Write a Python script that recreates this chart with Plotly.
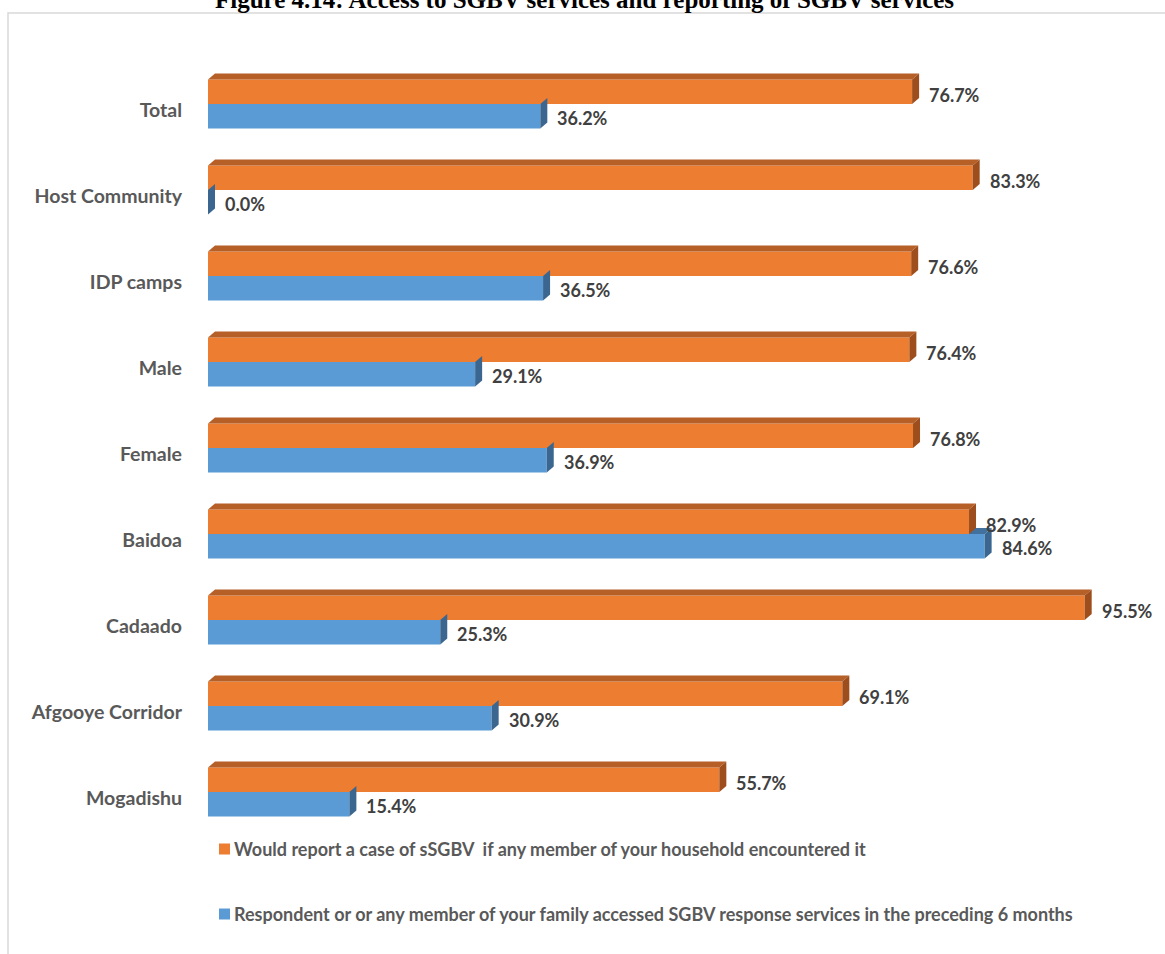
import plotly.graph_objects as go

categories = ["Total", "Host Community", "IDP camps", "Male", "Female",
              "Baidoa", "Cadaado", "Afgooye Corridor", "Mogadishu"]
would_report = [76.7, 83.3, 76.6, 76.4, 76.8, 82.9, 95.5, 69.1, 55.7]
accessed = [36.2, 0.0, 36.5, 29.1, 36.9, 84.6, 25.3, 30.9, 15.4]
series_names = [
    "Would report a case of sSGBV\u00a0 if any member of your household encountered it",
    "Respondent or or any member of your family accessed SGBV response services in the preceding 6 months",
]
title_text = "Figure 4.14: Access to SGBV services and reporting of SGBV services"

# page / plot-area geometry
W, H = 1165, 954
ML, MR, MT, MB = 208, 39, 61, 119
PW, PH = W - ML - MR, H - MT - MB

ORANGE, ORANGE_TOP, ORANGE_SIDE = "#ED7D31", "#B65F27", "#9E4E1C"
BLUE, BLUE_TOP, BLUE_SIDE = "#5B9BD5", "#41719C", "#3A6690"

BAR_W = 0.285          # thickness of one bar (category units)
DX = 7 * 100 / PW      # 3-D depth, horizontal (x units)
DY = 6 * len(categories) / PH  # 3-D depth, vertical (category units)


def px_x(p):
    return (p - ML) / PW


def px_y(p):
    return (H - MB - p) / PH


fig = go.Figure()
fig.add_trace(go.Bar(y=categories, x=would_report, orientation="h",
                     name=series_names[0], showlegend=False,
                     marker=dict(color=ORANGE, line=dict(width=0)),
                     hoverinfo="skip"))
fig.add_trace(go.Bar(y=categories, x=accessed, orientation="h",
                     name=series_names[1], showlegend=False,
                     marker=dict(color=BLUE, line=dict(width=0)),
                     hoverinfo="skip"))


def poly(pts, color, layer="above"):
    d = "M " + " L ".join(f"{x},{y}" for x, y in pts) + " Z"
    return dict(type="path", path=d, xref="x", yref="y", fillcolor=color,
                line=dict(width=0), layer=layer)


shapes = []
for i, (o, b) in enumerate(zip(would_report, accessed)):
    o_top, mid, b_bot = i - BAR_W, i, i + BAR_W
    # blue top face (mostly hidden behind the orange bar)
    shapes.append(poly([(0, mid), (DX, mid - DY), (b + DX, mid - DY), (b, mid)],
                       BLUE_TOP, "below"))
    # blue side face
    shapes.append(poly([(b, mid), (b + DX, mid - DY), (b + DX, b_bot - DY), (b, b_bot)],
                       BLUE_SIDE))
    # orange top face
    shapes.append(poly([(0, o_top), (DX, o_top - DY), (o + DX, o_top - DY), (o, o_top)],
                       ORANGE_TOP))
    # orange side face
    shapes.append(poly([(o, o_top), (o + DX, o_top - DY), (o + DX, mid - DY), (o, mid)],
                       ORANGE_SIDE))

# outer chart frame
shapes.append(dict(type="rect", xref="paper", yref="paper",
                   x0=px_x(8), x1=px_x(1175), y0=px_y(965), y1=px_y(13),
                   line=dict(color="#D9D9D9", width=1.5), layer="below"))

annotations = []
label_font = dict(family="Lato", size=18, color="#404040", weight="bold")
for i, (o, b) in enumerate(zip(would_report, accessed)):
    annotations.append(dict(x=o, y=i - BAR_W / 2, xref="x", yref="y",
                            text=f"{o:.1f}%", showarrow=False, xanchor="left",
                            xshift=15, yshift=-3, font=label_font))
    annotations.append(dict(x=b, y=i + BAR_W / 2, xref="x", yref="y",
                            text=f"{b:.1f}%", showarrow=False, xanchor="left",
                            xshift=15, yshift=-2, font=label_font))

# legend: colour key squares with their series names
legend_rows = [(849, ORANGE), (914, BLUE)]
for (cy, color), name in zip(legend_rows, series_names):
    shapes.append(dict(type="rect", xref="paper", yref="paper",
                       x0=px_x(219), x1=px_x(230), y0=px_y(cy + 5.5), y1=px_y(cy - 5.5),
                       fillcolor=color, line=dict(width=0)))
    annotations.append(dict(x=px_x(232), y=px_y(cy), xref="paper", yref="paper",
                            text=name, showarrow=False, xanchor="left",
                            yanchor="middle",
                            font=dict(family="Lato", size=18, color="#595959",
                                      weight="bold")))

annotations.append(dict(x=px_x(584), y=px_y(15), xref="paper", yref="paper",
                        text=title_text, showarrow=False, xanchor="center",
                        yanchor="bottom",
                        font=dict(family="Liberation Serif", size=25,
                                  color="#000000", weight="bold")))

fig.update_layout(
    width=W, height=H,
    margin=dict(l=ML, r=MR, t=MT, b=MB, pad=0),
    paper_bgcolor="white", plot_bgcolor="white",
    barmode="group", bargap=0.43, bargroupgap=0,
    shapes=shapes, annotations=annotations,
    showlegend=False,
    xaxis=dict(range=[0, 100], showgrid=False, zeroline=False,
               showticklabels=False, showline=False, fixedrange=True),
    yaxis=dict(range=[len(categories) - 0.5, -0.5], showgrid=False,
               zeroline=False, showline=False, ticks="", ticklabelstandoff=25,
               ticklabelshift=-6,
               tickfont=dict(family="Lato", size=19.5, color="#595959", weight="bold"),
               fixedrange=True),
)

fig.write_html("out.html")
